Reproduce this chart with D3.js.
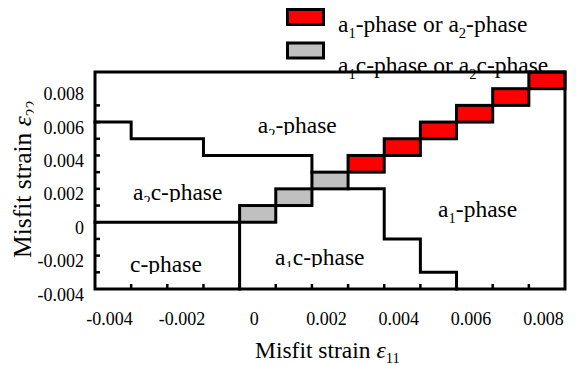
<!DOCTYPE html>
<html>
<head>
<meta charset="utf-8">
<script src="https://cdn.jsdelivr.net/npm/d3@7/dist/d3.min.js"></script>
<style>
  html, body { margin: 0; padding: 0; background: #fff; }
  svg { display: block; }
</style>
</head>
<body>
<svg id="chart" width="576" height="365"></svg>
<script>
// ---------- data ----------
const xTickLabels = [-0.004, -0.002, 0, 0.002, 0.004, 0.006, 0.008];
const yTickLabels = [0.008, 0.006, 0.004, 0.002, 0, -0.002, -0.004];
const xMinorTicks = [-0.0035, -0.0025, -0.0015, -0.0005, 0.0005, 0.0015, 0.0025, 0.0035, 0.0045, 0.0055, 0.0065, 0.0075];
const yMinorTicks = [-0.0025, -0.0015, -0.0005, 0.0005, 0.0015, 0.0025, 0.0035, 0.0045, 0.0055, 0.0065, 0.0075];

// cell centres of the a1/a2 boundary (red) and a1c/a2c boundary (grey)
const redX  = [0.003, 0.004, 0.005, 0.006, 0.007, 0.008];
const redY  = [0.004, 0.005, 0.006, 0.007, 0.008, 0.009];
const grayX = [0.000, 0.001, 0.002];
const grayY = [0.001, 0.002, 0.003];
const cellStep = 0.001;

// phase boundary lines
const upperX = [-0.0045, -0.0035, -0.0035, -0.0015, -0.0015, 0.0015, 0.0015];
const upperY = [ 0.0065,  0.0065,  0.0055,  0.0055,  0.0045, 0.0045, 0.0035];
const lowerX = [0.0025, 0.0035, 0.0035, 0.0045, 0.0045, 0.0055, 0.0055];
const lowerY = [0.0025, 0.0025, -0.0005, -0.0005, -0.0025, -0.0025, -0.0035];
const cPhaseX = [-0.0045, -0.0005, -0.0005];
const cPhaseY = [ 0.0005,  0.0005, -0.0035];

// phase labels
const phaseNames = [
  [["a",0],["2",1],["-phase",0]],
  [["a",0],["2",1],["c-phase",0]],
  [["c-phase",0]],
  [["a",0],["1",1],["c-phase",0]],
  [["a",0],["1",1],["-phase",0]]
];
const phaseLabelX = [0.0000, -0.00345, -0.00353, 0.00048, 0.00499];
const phaseLabelY = [0.00585, 0.00183, -0.00248, -0.00206, 0.00081];

// ---------- layout ----------
const FONT = "'Liberation Serif', 'Times New Roman', Times, serif";
const L = 95, R = 565, T = 72, B = 289;
const LABEL = 23.5;
const svg = d3.select("#chart").attr("font-family", FONT);
const defs = svg.append("defs");
const x = d3.scaleLinear().domain([-0.0045, 0.0085]).range([L, R]);
const y = d3.scaleLinear().domain([-0.0035, 0.0095]).range([B, T]);

function rich(sel, parts, size) {
  sel.attr("font-family", FONT);
  let shifted = false;
  parts.forEach(([s, sub]) => {
    const t = sel.append("tspan").text(s);
    if (sub && !shifted) { t.attr("font-size", size * 0.62).attr("dy", size * 0.24); shifted = true; }
    else if (!sub && shifted) { t.attr("font-size", size).attr("dy", -size * 0.24); shifted = false; }
    else t.attr("font-size", sub ? size * 0.62 : size);
  });
}

// cells
function drawCells(xs, ys, fill) {
  svg.append("g").selectAll("rect").data(xs.map((v, i) => [v, ys[i]])).join("rect")
    .attr("x", d => x(d[0] - cellStep / 2))
    .attr("y", d => y(d[1] + cellStep / 2))
    .attr("width", d => x(d[0] + cellStep / 2) - x(d[0] - cellStep / 2))
    .attr("height", d => y(d[1] - cellStep / 2) - y(d[1] + cellStep / 2))
    .attr("fill", fill).attr("stroke", "#000").attr("stroke-width", 3);
}
drawCells(grayX, grayY, "#c0c0c0");
drawCells(redX, redY, "#ff0000");

// boundaries
const line = d3.line().x(d => x(d[0])).y(d => y(d[1]));
[[upperX, upperY], [lowerX, lowerY], [cPhaseX, cPhaseY]].forEach(([xs, ys]) => {
  svg.append("path").attr("d", line(xs.map((v, i) => [v, ys[i]])))
    .attr("fill", "none").attr("stroke", "#000").attr("stroke-width", 3)
    .attr("stroke-linecap", "square");
});

// minor ticks (inward)
svg.append("g").selectAll("line").data(xMinorTicks).join("line")
  .attr("x1", d => x(d)).attr("x2", d => x(d)).attr("y1", B).attr("y2", B - 5)
  .attr("stroke", "#000").attr("stroke-width", 2.5);
svg.append("g").selectAll("line").data(yMinorTicks).join("line")
  .attr("y1", d => y(d)).attr("y2", d => y(d)).attr("x1", L).attr("x2", L + 5)
  .attr("stroke", "#000").attr("stroke-width", 2.5);

// tick labels through axes
const fmt = d => d === 0 ? "0" : d3.format(".3f")(d).replace("−", "-");
const xAxis = d3.axisBottom(x).tickValues(xTickLabels).tickSize(0).tickPadding(23).tickFormat(fmt);
const gx = svg.append("g").attr("transform", `translate(-4,${B})`).call(xAxis)
  .attr("font-family", FONT).attr("font-size", 18);
gx.select(".domain").remove();
gx.selectAll("text").attr("font-family", FONT).attr("font-size", 18);

const yAxis = d3.axisLeft(y).tickValues(yTickLabels).tickSize(0).tickPadding(11).tickFormat(fmt);
const gy = svg.append("g").attr("transform", `translate(${L},-3)`).call(yAxis)
  .attr("font-family", FONT).attr("font-size", 18);
gy.select(".domain").remove();
gy.selectAll("text").attr("font-family", FONT).attr("font-size", 18);

// phase labels (descenders hidden like the reference, except a1-phase)
phaseNames.forEach((parts, i) => {
  const px = x(phaseLabelX[i]), py = y(phaseLabelY[i]);
  const t = svg.append("text").attr("x", px).attr("y", py);
  rich(t, parts, LABEL);
  if (i < 4) {
    const id = "clipLab" + i;
    defs.append("clipPath").attr("id", id).append("rect")
      .attr("x", px - 5).attr("y", py - 30).attr("width", 130).attr("height", 32);
    t.attr("clip-path", `url(#${id})`);
  }
});

// axis titles
const xt = svg.append("text").attr("x", 255).attr("y", 358);
rich(xt, [["Misfit strain ", 0]], LABEL);
xt.append("tspan").attr("font-style", "italic").attr("font-size", LABEL).text("ε");
xt.append("tspan").attr("font-size", LABEL * 0.62).attr("dy", 5).text("11");

defs.append("clipPath").attr("id", "clipYT").append("rect")
  .attr("x", 0).attr("y", 60).attr("width", 34).attr("height", 220);
const ytG = svg.append("g").attr("clip-path", "url(#clipYT)");
const yt = ytG.append("text").attr("transform", "translate(31,258) rotate(-90)");
rich(yt, [["Misfit strain ", 0]], 25.5);
yt.append("tspan").attr("font-style", "italic").attr("font-size", 25.5).text("ε");
yt.append("tspan").attr("font-size", 25.5 * 0.62).attr("dy", 6).text("22");

// legend
const legend = [
  { fill: "#ff0000", parts: [["a",0],["1",1],["-phase or a",0],["2",1],["-phase",0]], ry: 9.5, ty: 32 },
  { fill: "#c0c0c0", parts: [["a",0],["1",1],["c-phase or a",0],["2",1],["c-phase",0]], ry: 43, ty: 73 }
];
legend.forEach(l => {
  svg.append("rect").attr("x", 287.5).attr("y", l.ry).attr("width", 36).attr("height", 15)
    .attr("fill", l.fill).attr("stroke", "#000").attr("stroke-width", 3);
  const t = svg.append("text").attr("x", 338).attr("y", l.ty);
  rich(t, l.parts, LABEL);
});

// white strip under the frame top so the second legend line is cut by it
defs.append("clipPath").attr("id", "clipLeg").append("rect").attr("x", 0).attr("y", 0).attr("width", 576).attr("height", T);

// frame
svg.append("rect").attr("x", L).attr("y", T).attr("width", R - L).attr("height", B - T)
  .attr("fill", "none").attr("stroke", "#000").attr("stroke-width", 3);
</script>
</body>
</html>
